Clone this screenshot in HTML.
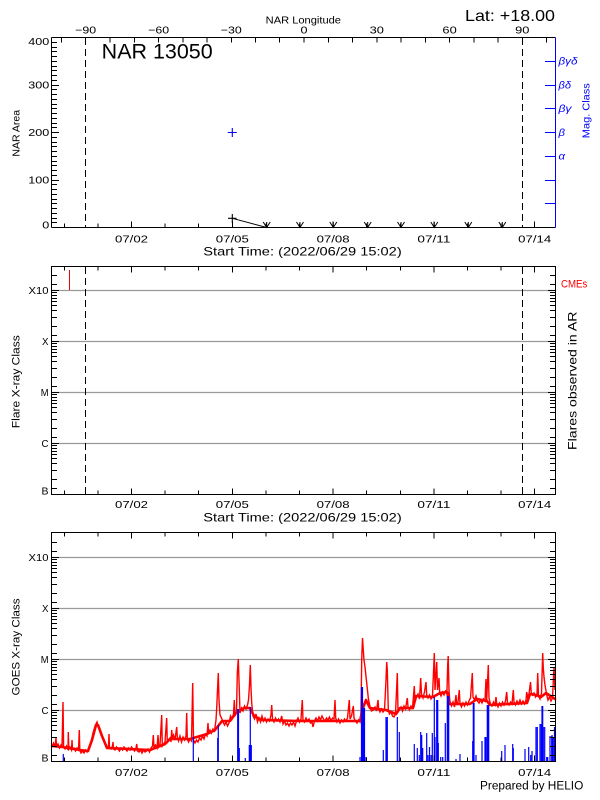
<!DOCTYPE html>
<html><head><meta charset="utf-8"><style>
html,body{margin:0;padding:0;background:#fff;}
svg{display:block;}
text{font-family:"Liberation Sans",sans-serif;}
</style></head><body>
<svg width="600" height="800" viewBox="0 0 600 800" xmlns="http://www.w3.org/2000/svg">
<rect width="600" height="800" fill="#fff"/>
<defs>
<g id="bt"><path d="M64.3 0v-4M97.9 0v-4M131.5 0v-6M165.1 0v-4M198.7 0v-4M232.3 0v-6M265.9 0v-4M299.5 0v-4M333.1 0v-6M366.7 0v-4M400.3 0v-4M433.9 0v-6M467.5 0v-4M501.1 0v-4M534.7 0v-6" stroke="#000" stroke-width="1" fill="none"/></g>
<g id="tt"><path d="M64.3 0v4M97.9 0v4M131.5 0v6M165.1 0v4M198.7 0v4M232.3 0v6M265.9 0v4M299.5 0v4M333.1 0v6M366.7 0v4M400.3 0v4M433.9 0v6M467.5 0v4M501.1 0v4M534.7 0v6" stroke="#000" stroke-width="1" fill="none"/></g>
<g id="lt" fill="#000">
<path d="M52 0h7v1h-7zM52 51h7v1h-7zM52 102h7v1h-7zM52 153h7v1h-7zM52 204h7v1h-7zM548 0h7v1h-7zM548 51h7v1h-7zM548 102h7v1h-7zM548 153h7v1h-7zM548 204h7v1h-7z"/>
<path d="M52 189h5v1h-5zM52 180h5v1h-5zM52 173h5v1h-5zM52 168h5v1h-5zM52 164h5v1h-5zM52 161h5v1h-5zM52 158h5v1h-5zM52 155h5v1h-5zM52 198h5v1h-5zM52 138h5v1h-5zM52 129h5v1h-5zM52 122h5v1h-5zM52 117h5v1h-5zM52 113h5v1h-5zM52 110h5v1h-5zM52 107h5v1h-5zM52 104h5v1h-5zM52 147h5v1h-5zM52 87h5v1h-5zM52 78h5v1h-5zM52 71h5v1h-5zM52 66h5v1h-5zM52 62h5v1h-5zM52 59h5v1h-5zM52 56h5v1h-5zM52 53h5v1h-5zM52 96h5v1h-5zM52 36h5v1h-5zM52 27h5v1h-5zM52 20h5v1h-5zM52 15h5v1h-5zM52 11h5v1h-5zM52 8h5v1h-5zM52 5h5v1h-5zM52 2h5v1h-5zM52 45h5v1h-5zM52 -15h5v1h-5zM52 -6h5v1h-5z"/>
<path d="M550 189h5v1h-5zM550 180h5v1h-5zM550 173h5v1h-5zM550 168h5v1h-5zM550 164h5v1h-5zM550 161h5v1h-5zM550 158h5v1h-5zM550 155h5v1h-5zM550 198h5v1h-5zM550 138h5v1h-5zM550 129h5v1h-5zM550 122h5v1h-5zM550 117h5v1h-5zM550 113h5v1h-5zM550 110h5v1h-5zM550 107h5v1h-5zM550 104h5v1h-5zM550 147h5v1h-5zM550 87h5v1h-5zM550 78h5v1h-5zM550 71h5v1h-5zM550 66h5v1h-5zM550 62h5v1h-5zM550 59h5v1h-5zM550 56h5v1h-5zM550 53h5v1h-5zM550 96h5v1h-5zM550 36h5v1h-5zM550 27h5v1h-5zM550 20h5v1h-5zM550 15h5v1h-5zM550 11h5v1h-5zM550 8h5v1h-5zM550 5h5v1h-5zM550 2h5v1h-5zM550 45h5v1h-5zM550 -15h5v1h-5zM550 -6h5v1h-5z"/>
</g>
<g id="grid"><path d="M52 0H555M52 51H555M52 102H555M52 153H555" stroke="#999" stroke-width="1.3"/></g>
<g id="cls" font-size="10.5" text-anchor="end">
<text x="48.5" y="3.5" textLength="20" lengthAdjust="spacingAndGlyphs">X10</text>
<text x="48.5" y="54.5" textLength="6.5" lengthAdjust="spacingAndGlyphs">X</text>
<text x="48.5" y="105.5" textLength="7.8" lengthAdjust="spacingAndGlyphs">M</text>
<text x="48.5" y="156.5" textLength="7" lengthAdjust="spacingAndGlyphs">C</text>
<text x="48.5" y="204" textLength="7" lengthAdjust="spacingAndGlyphs">B</text>
</g>
<g id="dl" font-size="10.5" text-anchor="middle">
<text x="131.5" y="0" textLength="33" lengthAdjust="spacingAndGlyphs">07/02</text>
<text x="232.3" y="0" textLength="33" lengthAdjust="spacingAndGlyphs">07/05</text>
<text x="333.1" y="0" textLength="33" lengthAdjust="spacingAndGlyphs">07/08</text>
<text x="433.9" y="0" textLength="33" lengthAdjust="spacingAndGlyphs">07/11</text>
<text x="534.7" y="0" textLength="33" lengthAdjust="spacingAndGlyphs">07/14</text>
</g>
</defs>

<!-- ================= TOP PANEL ================= -->
<text x="465" y="21" font-size="16" textLength="90" lengthAdjust="spacingAndGlyphs">Lat: +18.00</text>
<text x="265.7" y="23.3" font-size="10.5" textLength="75.3" lengthAdjust="spacingAndGlyphs">NAR Longitude</text>
<g font-size="10.5" text-anchor="middle">
<text x="85.7" y="33.3" textLength="21" lengthAdjust="spacingAndGlyphs">−90</text>
<text x="158.6" y="33.3" textLength="21" lengthAdjust="spacingAndGlyphs">−60</text>
<text x="231.3" y="33.3" textLength="21" lengthAdjust="spacingAndGlyphs">−30</text>
<text x="304" y="33.3" textLength="7" lengthAdjust="spacingAndGlyphs">0</text>
<text x="376.8" y="33.3" textLength="14.3" lengthAdjust="spacingAndGlyphs">30</text>
<text x="449.6" y="33.3" textLength="14.3" lengthAdjust="spacingAndGlyphs">60</text>
<text x="522.3" y="33.3" textLength="14.3" lengthAdjust="spacingAndGlyphs">90</text>
</g>
<g shape-rendering="crispEdges">
<path d="M51.5 37.5H555.5M51.5 227.5H555.5M51.5 37.5V227.5" stroke="#000" stroke-width="1" fill="none"/>
<path d="M555.5 37.5V227.5" stroke="#00f" stroke-width="1"/>
<path d="M555 61.5h-10M555 85.5h-10M555 108.5h-10M555 132.5h-10M555 156.5h-10M555 180.5h-10M555 203.5h-10" stroke="#00f" stroke-width="1"/>
<path d="M61.4 37.5v5M85.7 37.5v5M110.1 37.5v5M134.3 37.5v5M158.6 37.5v5M182.8 37.5v5M207 37.5v5M231.3 37.5v5M255.5 37.5v5M279.7 37.5v5M304 37.5v5M328.3 37.5v5M352.5 37.5v5M376.8 37.5v5M401 37.5v5M425.3 37.5v5M449.6 37.5v5M473.8 37.5v5M498.1 37.5v5M522.3 37.5v5M546.6 37.5v5" stroke="#000" stroke-width="1"/>
<path fill="#000" d="M52 227h7v1h-7zM52 180h7v1h-7zM52 132h7v1h-7zM52 85h7v1h-7zM52 37h7v1h-7z"/>
<path fill="#000" d="M52 222h5v1h-5zM52 218h5v1h-5zM52 213h5v1h-5zM52 208h5v1h-5zM52 203h5v1h-5zM52 199h5v1h-5zM52 194h5v1h-5zM52 189h5v1h-5zM52 184h5v1h-5zM52 175h5v1h-5zM52 170h5v1h-5zM52 165h5v1h-5zM52 161h5v1h-5zM52 156h5v1h-5zM52 151h5v1h-5zM52 146h5v1h-5zM52 142h5v1h-5zM52 137h5v1h-5zM52 127h5v1h-5zM52 123h5v1h-5zM52 118h5v1h-5zM52 113h5v1h-5zM52 108h5v1h-5zM52 104h5v1h-5zM52 99h5v1h-5zM52 94h5v1h-5zM52 89h5v1h-5zM52 80h5v1h-5zM52 75h5v1h-5zM52 70h5v1h-5zM52 66h5v1h-5zM52 61h5v1h-5zM52 56h5v1h-5zM52 51h5v1h-5zM52 47h5v1h-5zM52 42h5v1h-5z"/>
<use href="#bt" transform="translate(0,227.5)"/>
<path d="M85.5 38V227M522.5 38V227" stroke="#000" stroke-width="1" stroke-dasharray="7,4"/>
</g>
<g font-size="10" text-anchor="end">
<text x="49.3" y="45" textLength="21" lengthAdjust="spacingAndGlyphs">400</text>
<text x="49.3" y="88.5" textLength="21" lengthAdjust="spacingAndGlyphs">300</text>
<text x="49.3" y="136" textLength="21" lengthAdjust="spacingAndGlyphs">200</text>
<text x="49.3" y="183.5" textLength="21" lengthAdjust="spacingAndGlyphs">100</text>
<text x="49.3" y="228.5" textLength="7" lengthAdjust="spacingAndGlyphs">0</text>
</g>
<text transform="translate(19.3,133.3) rotate(-90)" font-size="10.5" text-anchor="middle" textLength="46.7" lengthAdjust="spacingAndGlyphs">NAR Area</text>
<text x="101.7" y="58.3" font-size="21" textLength="111" lengthAdjust="spacingAndGlyphs">NAR 13050</text>
<g fill="#00f" font-size="10" font-style="italic">
<text x="558.5" y="64.5" textLength="19" lengthAdjust="spacingAndGlyphs">βγδ</text>
<text x="558.5" y="88.3" textLength="12.5" lengthAdjust="spacingAndGlyphs">βδ</text>
<text x="558.5" y="112" textLength="13" lengthAdjust="spacingAndGlyphs">βγ</text>
<text x="558.5" y="135.8" textLength="6.5" lengthAdjust="spacingAndGlyphs">β</text>
<text x="558.5" y="159.5" textLength="6.5" lengthAdjust="spacingAndGlyphs">α</text>
</g>
<text transform="translate(589.3,110.7) rotate(-90)" font-size="10.5" fill="#00f" text-anchor="middle" textLength="55" lengthAdjust="spacingAndGlyphs">Mag. Class</text>
<!-- markers -->
<path d="M227.8 132.5h9M232.3 128v9" stroke="#00f" stroke-width="1.1"/>
<path d="M228 218.3h8.6M232.3 214v9" stroke="#000" stroke-width="1.1"/>
<path d="M232.3 218.3L266.7 227.5" stroke="#000" stroke-width="1"/>
<path d="M263.2 222l3.5 5.5l3.5-5.5M266.7 222v5.5M296.5 222l3.5 5.5l3.5-5.5M300 222v5.5M329.8 222l3.5 5.5l3.5-5.5M333.3 222v5.5M364.2 222l3.5 5.5l3.5-5.5M367.7 222v5.5M397.5 222l3.5 5.5l3.5-5.5M401 222v5.5M430.8 222l3.5 5.5l3.5-5.5M434.3 222v5.5M464.8 222l3.5 5.5l3.5-5.5M468.3 222v5.5M498.8 222l3.5 5.5l3.5-5.5M502.3 222v5.5" stroke="#000" stroke-width="1" fill="none"/>
<use href="#dl" transform="translate(0,242.5)"/>
<text x="203.3" y="255.5" font-size="12" textLength="198.4" lengthAdjust="spacingAndGlyphs">Start Time: (2022/06/29 15:02)</text>

<!-- ================= MIDDLE PANEL ================= -->
<use href="#grid" transform="translate(0,290.5)"/>
<g shape-rendering="crispEdges">
<path d="M51.5 266.5H555.5V494.5H51.5Z" stroke="#000" stroke-width="1" fill="none"/>
<use href="#lt" transform="translate(0,290)"/>
<use href="#bt" transform="translate(0,494.5)"/>
<use href="#tt" transform="translate(0,266.5)"/>
<path d="M85.5 267V494M522.5 267V494" stroke="#000" stroke-width="1" stroke-dasharray="7,4"/>
<path d="M69.5 270V290" stroke="#e00" stroke-width="1"/>
</g>
<use href="#cls" transform="translate(0,290.5)"/>
<text transform="translate(19.5,381.7) rotate(-90)" font-size="11" text-anchor="middle" textLength="93" lengthAdjust="spacingAndGlyphs">Flare X-ray Class</text>
<text x="561" y="287.3" font-size="11" fill="#f00" textLength="26.3" lengthAdjust="spacingAndGlyphs">CMEs</text>
<text transform="translate(576.7,380.8) rotate(-90)" font-size="12" text-anchor="middle" textLength="138.3" lengthAdjust="spacingAndGlyphs">Flares observed in AR</text>
<use href="#dl" transform="translate(0,508)"/>
<text x="203.3" y="521.5" font-size="12" textLength="198.4" lengthAdjust="spacingAndGlyphs">Start Time: (2022/06/29 15:02)</text>

<!-- ================= BOTTOM PANEL ================= -->
<use href="#grid" transform="translate(0,557.5)"/>
<!-- GOES red band -->
<polyline fill="none" stroke="#f00" stroke-width="2.6" stroke-linejoin="round" stroke-linecap="round" points="52,746 62,747 80,750 88,751 92,740 96,725 98,725 102,736 107,748 150,750 165,744 170,739 190,739 207,734 215,730 222,721 230,721 236,713 244,708 250,708 254,716 262,720 300,721 340,721 360,721 363,708 366,700 370,708 386,710 396,714 400,708 413,708 416,696 433,697 440,693 447,692 450,704 470,704 477,699 487,701 490,705 527,703 530,694 536,695 541,697 546,693 555,699"/>
<!-- GOES red -->
<polyline fill="none" stroke="#f00" stroke-width="1.4" stroke-linejoin="miter" points="52,746 53.5,743 55,747 56,738 56.5,746 58,744 59.5,748 61,745 62,747 63,702 63.6,747 65,749 66.5,746 68,750 68.3,732 68.8,749 70,747 71.5,750 72,740 72.5,749 74,748 75.5,751 77,748 78.5,750 79.3,730 79.8,750 81,753 82.5,751 84,753 85.5,750 87,752 88.5,749 90,745 91.5,740 93,733 94.5,728 96,724 97,722 98,726 99.5,729 101,734 102.5,738 104,742 105.5,745 107,748 108.5,746 109,734 109.5,748 111,749 112.5,746 113,742 113.5,749 115,750 116.5,747 118,749 119.5,751 121,748 122.5,750 124,747 125.5,749 127,751 128.5,748 130,750 131.5,747 133,749 134.5,751 136,748 136.7,744 137.5,751 139,752 140.5,750 142,753 143.5,750 145,752 146.5,751 148,749 149.5,752 151,748 152.5,746 153.3,735 154,747 155.5,745 157,748 158,735 158.7,747 160,745 161.7,715 162.3,746 163.5,744 165,742 166.7,718 167.3,743 168.5,740 170,738 171,742 171.7,730 172.3,738 173.5,735 175,740 176.7,727 177.3,737 178.5,741 180,736 181.5,742 183,737 184.5,740 186,736 186.7,713 187.3,739 188.5,742 190,739 191.5,741 192.7,683 193.5,740 195,743 196.5,740 198,742 199.5,738 201,740 202.5,736 204,739 205.5,734 207,736 208,723 208.6,733 210,730 211.5,733 213,729 214.5,731 216,720 216.7,708 217.5,690 218.3,673 219,700 220,715 221.5,718 223,722 224.5,725 226,722 227.5,726 229,723 230.5,716 232,719 233.5,714 234.3,700 235,716 236.5,712 237.3,673 238.3,659 239.3,690 240,713 241.5,708 243,711 244.5,706 246,709 247.5,705 248.5,700 249.5,685 250.3,665 251,688 251.7,703 253,716 254.5,719 256,714 257.5,722 259,718 260.5,722 262,716 263.5,721 265,718 266.5,722 268,719 269.5,721 271,715 271.7,705 272.5,719 274,722 275.5,718 277,721 278.5,719 280,722 281.7,716 283,724 284.5,721 286,725 287.5,723 289,726 290.5,723 292,725 293.5,722 295,726 296.5,721 298,718 299.5,722 301,719 302.3,700 303,720 304.5,722 306,718 307.5,721 309,719 310.5,723 312,722 313,727 314.5,721 316,718 317.5,721 319,717 320.5,720 322,716 323.5,719 325,721 326.5,718 328,720 329.5,717 331,721 332.5,718 334,719 335,700 335.7,718 337,722 338.5,719 340,723 341.5,720 343,722 344.5,719 346,721 347.5,718 349.3,700 350,719 351.5,716 353.3,706 354,718 355.5,721 357,723 358.5,720 360,722 361,712 361.7,660 362.5,638 363.3,650 364,660 365,667 366.7,683 368.3,698 370,707 371.5,711 373.3,710 375,707 376.5,711 378,700 378.7,709 380,712 381.5,709 383,712 384.5,710 386,680 386.7,662 387.3,670 388.3,710 389.5,714 391,712 392.5,716 394,717 395.5,714 397.3,673 398,712 399.5,710 401,707 402.5,711 404,706 405.5,709 407.3,698 408,707 409.5,710 411,706 412.5,708 414.3,686 415,702 416.5,697 418,694 419.5,699 420.7,678 421.5,694 423,698 424.5,692 426,682 426.7,695 428,698 429.5,695 431,699 432.5,696 434.3,653 435,690 436.7,662 437.5,690 439,678 439.7,693 441,696 442.5,692 444,695 445.5,691 447,690 447.7,665 448.2,656 449,690 450,703 451.5,706 453,702 454.5,707 456,695 456.7,705 458,702 459.3,690 460,704 461.5,707 463,703 464.5,706 466,702 467.5,705 469,701 470.5,698 472.3,673 473,697 474.5,700 476,696 477.5,701 479,703 480.5,700 482,703 483.5,699 485,701 486,679 486.7,700 488.3,665 489,698 490.5,704 492,706 493.5,702 495,705 496,697 496.7,704 498,707 499.5,703 501,706 502.5,702 504,705 505.5,701 506.7,692 507.5,703 509,705 510.5,702 512,704 513.3,690 514,702 515.5,705 517,701 518.5,704 520,700 521.5,704 523,701 524.5,704 526,700 526.7,692 527.5,697 529,694 530.5,682 531.2,692 532.5,695 534,693 535.5,697 537,695 537.7,673 538.5,696 540,699 541.5,693 542.7,653 543.3,668 544,677 545,685 546.5,694 548,700 549.5,697 551,701 552.5,698 554,667 555,690"/>
<!-- blue -->
<path fill="none" stroke="#00f" stroke-width="1.2" d="M63.3 761V754M193.3 761V737M217.7 761V738M218.3 761V725M237.7 761V709M238.5 761V709M239.3 761V748M245.3 761V758M249.3 761V745M250.3 761V707M251.3 761V745M360 761V757M361.5 761V687M362.5 761V687M363.3 761V708M364.5 761V708M366 761V757M383.3 761V750M386 761V717M386.7 761V720M387.3 761V717M397.3 761V717M399.3 761V732M414.3 761V744M417.3 761V748M419.3 761V755M420.7 761V732M421.7 761V735M422.7 761V748M426.7 761V733M428 761V755M429.5 761V747M431 761V755M432.3 761V733M434.3 761V697M435 761V737M436.7 761V700M437.7 761V700M438.3 761V743M440.7 761V757M442.7 761V757M445.3 761V723M447.3 761V696M448.2 761V696M448.7 761V696M456 761V759M460 761V754M472.7 761V741M473.3 761V703M474 761V703M476 761V755M482 761V741M485 761V737M486 761V737M487.3 761V705M488.2 761V705M488.7 761V705M501.7 761V751M505 761V745M512.7 761V744M513.3 761V748M525 761V749M528.7 761V747M530.7 761V755M532 761V751M536 761V727M537.3 761V727M540 761V724M541.3 761V724M542 761V706M542.7 761V706M543.3 761V727M544.7 761V727M546.7 761V757M547.7 761V757M550 761V736M551.7 761V736H553M552.7 761V737M554 761V737M554.5 761V727"/>
<g shape-rendering="crispEdges">
<path d="M51.5 532.5H555.5V761.5H51.5Z" stroke="#000" stroke-width="1" fill="none"/>
<use href="#lt" transform="translate(0,557)"/>
<use href="#bt" transform="translate(0,761.5)"/>
<use href="#tt" transform="translate(0,532.5)"/>
</g>
<use href="#cls" transform="translate(0,557.5)"/>
<text transform="translate(19.5,647) rotate(-90)" font-size="11" text-anchor="middle" textLength="97" lengthAdjust="spacingAndGlyphs">GOES X-ray Class</text>
<use href="#dl" transform="translate(0,776)"/>
<text x="480" y="789.5" font-size="11.5" textLength="103.3" lengthAdjust="spacingAndGlyphs">Prepared by HELIO</text>
</svg>
</body></html>
